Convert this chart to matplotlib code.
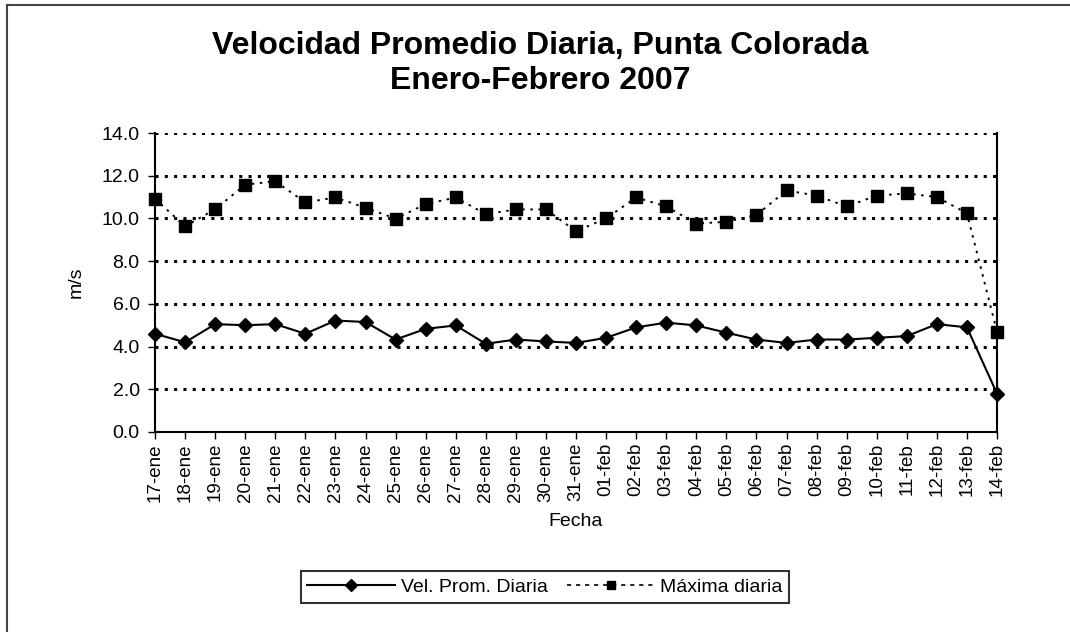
import matplotlib
matplotlib.use("Agg")
import matplotlib.pyplot as plt
from matplotlib.lines import Line2D

plt.rcParams['font.family'] = ['Liberation Sans', 'DejaVu Sans']
plt.rcParams['lines.scale_dashes'] = False

fechas = ["17-ene", "18-ene", "19-ene", "20-ene", "21-ene", "22-ene", "23-ene", "24-ene",
          "25-ene", "26-ene", "27-ene", "28-ene", "29-ene", "30-ene", "31-ene", "01-feb",
          "02-feb", "03-feb", "04-feb", "05-feb", "06-feb", "07-feb", "08-feb", "09-feb",
          "10-feb", "11-feb", "12-feb", "13-feb", "14-feb"]
vel_prom = [4.6, 4.2, 5.05, 5.0, 5.05, 4.6, 5.22, 5.15, 4.33, 4.83, 4.99, 4.13, 4.33, 4.24,
            4.17, 4.41, 4.9, 5.12, 4.99, 4.65, 4.33, 4.17, 4.33, 4.33, 4.41, 4.49, 5.05, 4.9, 1.8]
max_diaria = [10.92, 9.63, 10.43, 11.58, 11.74, 10.75, 10.98, 10.5, 9.99, 10.67, 10.98, 10.2,
              10.42, 10.42, 9.4, 10.0, 10.98, 10.56, 9.76, 9.84, 10.16, 11.31, 11.07, 10.56,
              11.07, 11.17, 11.0, 10.24, 4.7]
yticks = [0, 2, 4, 6, 8, 10, 12, 14]

fig = plt.figure(figsize=(10.7, 6.32), dpi=100)
ax = fig.add_axes([155/1070, 1-432/632, (997-155)/1070, (432-133)/632])

x = list(range(len(fechas)))
ax.plot(x, max_diaria, color='black', linewidth=1.4, linestyle=(0, (1.8, 4.0)),
        marker='s', markersize=8.5, markerfacecolor='black', markeredgecolor='black',
        clip_on=False, zorder=4)
ax.plot(x, vel_prom, color='black', linewidth=1.5, linestyle='-',
        marker='D', markersize=7.5, markerfacecolor='black', markeredgecolor='black',
        clip_on=False, zorder=5)

ax.set_xlim(0, len(fechas) - 1)
ax.set_ylim(0, 14)
ax.set_yticks(yticks)
ax.set_yticklabels([f"{v:.1f}" for v in yticks], fontsize=14)
ax.set_xticks(x)
ax.set_xticklabels(fechas, rotation=90, fontsize=13.5)

for v in yticks[1:]:
    ax.axhline(v, color='black', linewidth=2.2, linestyle=(0, (2.2, 4.5)), zorder=1)

ax.spines['top'].set_visible(False)
for s in ['left', 'bottom', 'right']:
    ax.spines[s].set_linewidth(1.5)
ax.tick_params(axis='both', direction='out', length=5, width=1, colors='black')
ax.tick_params(axis='y', pad=6)
ax.tick_params(axis='x', pad=3)

ax.set_xlabel("Fecha", fontsize=14, labelpad=8)
ax.set_ylabel("m/s", fontsize=14, labelpad=12)

fig.text(0.505, 1-46/632, "Velocidad Promedio Diaria, Punta Colorada", ha='center', va='center',
         fontsize=23, fontweight='bold')
fig.text(0.505, 1-81/632, "Enero-Febrero 2007", ha='center', va='center',
         fontsize=23, fontweight='bold')

# outer frame (top and left edges visible)
fig.add_artist(Line2D([7/1070, 7/1070], [0, 1-5/632], transform=fig.transFigure,
                      color='#444444', linewidth=1.5))
fig.add_artist(Line2D([7/1070, 1], [1-5/632, 1-5/632], transform=fig.transFigure,
                      color='#444444', linewidth=1.5))

handles = [
    Line2D([], [], color='black', linewidth=1.5, marker='D', markersize=6),
    Line2D([], [], color='black', linewidth=1.2, linestyle=(0, (3.0, 3.5)), marker='s', markersize=6),
]
leg = fig.legend(handles, ["Vel. Prom. Diaria", "Máxima diaria"], loc='center',
                 bbox_to_anchor=(545/1070, 1-587/632), ncol=2, fontsize=14,
                 frameon=True, fancybox=False, edgecolor='black', handlelength=4.5,
                 columnspacing=1.0, handletextpad=0.3, borderpad=0.35)
leg.get_frame().set_linewidth(1.5)

fig.savefig("out.png", dpi=100, facecolor='white')
